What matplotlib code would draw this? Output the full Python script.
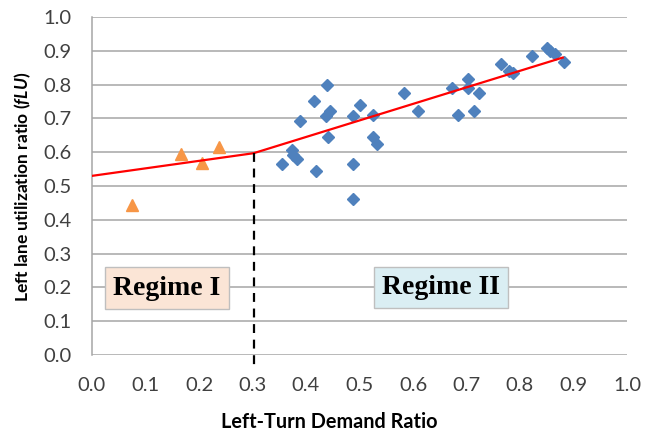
import matplotlib
matplotlib.use("Agg")
import matplotlib.pyplot as plt
import numpy as np

plt.rcParams['font.family'] = ['Lato', 'DejaVu Sans']
plt.rcParams['mathtext.fontset'] = 'custom'
plt.rcParams['mathtext.it'] = 'Lato:italic:bold'
plt.rcParams['mathtext.rm'] = 'Lato:bold'

# Regime I observations (orange triangles)
reg1_x = [0.074, 0.166, 0.206, 0.237]
reg1_y = [0.444, 0.595, 0.569, 0.614]

# Regime II observations (blue diamonds)
reg2_x = [0.439, 0.415, 0.500, 0.389, 0.444, 0.437, 0.487, 0.525, 0.442, 0.526,
          0.533, 0.373, 0.376, 0.383, 0.356, 0.419, 0.487, 0.487, 0.584, 0.609,
          0.672, 0.684, 0.702, 0.702, 0.723, 0.714, 0.764, 0.780, 0.787, 0.823,
          0.850, 0.857, 0.865, 0.883]
reg2_y = [0.798, 0.752, 0.740, 0.693, 0.723, 0.708, 0.708, 0.710, 0.646, 0.644,
          0.623, 0.607, 0.592, 0.579, 0.564, 0.544, 0.564, 0.462, 0.776, 0.722,
          0.789, 0.710, 0.817, 0.789, 0.776, 0.722, 0.860, 0.840, 0.833, 0.885,
          0.909, 0.900, 0.892, 0.868]

# Piecewise fitted line
fit_x = [0.0, 0.302, 0.880]
fit_y = [0.530, 0.597, 0.880]

break_x = 0.302
break_y = 0.597

x_ticks = [0.0, 0.1, 0.2, 0.3, 0.4, 0.5, 0.6, 0.7, 0.8, 0.9, 1.0]
y_ticks = [0.0, 0.1, 0.2, 0.3, 0.4, 0.5, 0.6, 0.7, 0.8, 0.9, 1.0]

fig = plt.figure(figsize=(6.45, 4.36), dpi=100)
ax = fig.add_axes([92/645, 81/436, 535/645, 338/436])

grid_c = '#a6a6a6'
for yv in y_ticks:
    ax.axhline(yv, color=grid_c, lw=1.1, zorder=1)

ax.plot(reg2_x, reg2_y, linestyle='none', marker='D', ms=6.5,
        color='#4f81bd', mec='#4f81bd', zorder=3)
ax.plot(reg1_x, reg1_y, linestyle='none', marker='^', ms=8.5,
        color='#f79646', mec='#f79646', zorder=3)
ax.plot(fit_x, fit_y, color='#ff0000', lw=1.6, zorder=4)
ax.plot([break_x, break_x], [break_y, -0.04], color='black', lw=1.6,
        linestyle=(0, (4, 3)), zorder=4, clip_on=False)

ax.set_xlim(0, 1.0)
ax.set_ylim(0, 1.0)
ax.set_xticks(x_ticks)
ax.set_yticks(y_ticks)
ax.set_xticklabels([f"{v:.1f}" for v in x_ticks])
ax.set_yticklabels([f"{v:.1f}" for v in y_ticks])
ax.tick_params(axis='both', length=0, labelsize=14.5, colors='#404040')
ax.tick_params(axis='x', pad=16)
ax.tick_params(axis='y', pad=15)

for s in ['top', 'right', 'bottom']:
    ax.spines[s].set_visible(False)
ax.spines['left'].set_color(grid_c)
ax.spines['left'].set_linewidth(1.1)

fig.text(329/645, 1 - 422/436, "Left-Turn Demand Ratio", ha='center', va='center',
         fontsize=14.3, fontweight='bold', color='black')
fig.text(23/645, 1 - 187/436, r"Left lane utilization ratio ($\mathit{fLU}$)",
         rotation=90, ha='center', va='center', fontsize=12.5,
         fontweight='bold', color='black')

ax.text(0.140, 0.198, "Regime I", ha='center', va='center', fontsize=20,
        fontweight='bold', family='Liberation Serif', zorder=5,
        bbox=dict(boxstyle='square,pad=0.3', fc='#fbe5d6', ec='#bfbfbf', lw=1))
ax.text(0.652, 0.200, "Regime II", ha='center', va='center', fontsize=20,
        fontweight='bold', family='Liberation Serif', zorder=5,
        bbox=dict(boxstyle='square,pad=0.3', fc='#daeef3', ec='#bfbfbf', lw=1))

fig.savefig("out.png", dpi=100)
